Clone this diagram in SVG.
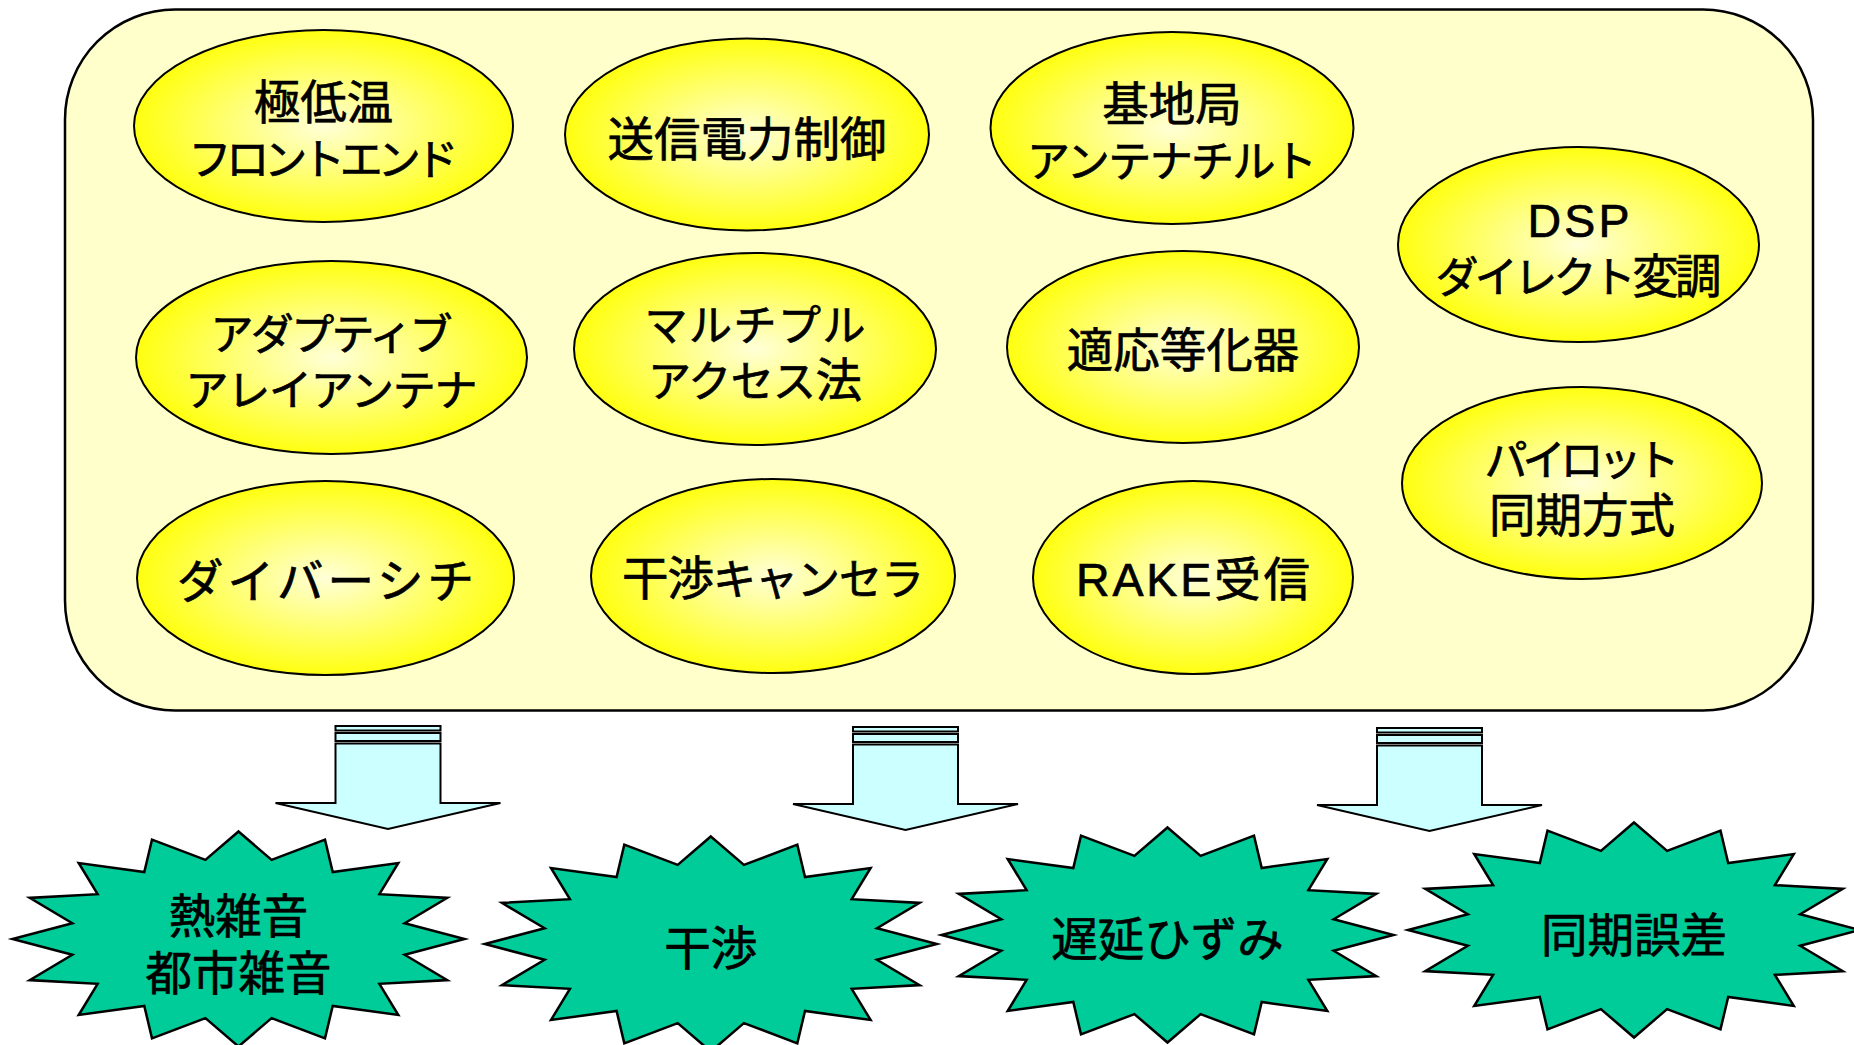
<svg xmlns="http://www.w3.org/2000/svg" width="1854" height="1045" viewBox="0 0 1854 1045">
<style>
.bg{fill:#ffffff}
.panel{fill:#FFFFCC;stroke:#000;stroke-width:2.5}
.node ellipse{fill:url(#yg);stroke:#000;stroke-width:2}
.star{fill:#00CC99;stroke:#000;stroke-width:2.5;stroke-linejoin:miter}
.arr{fill:#CCFFFF;stroke:#000;stroke-width:2;stroke-linejoin:miter}
text{font-family:"Liberation Sans","Noto Sans CJK JP",sans-serif;font-size:46.5px;fill:#000;stroke:#000;stroke-width:0.7;text-anchor:middle}
.k{font-size:43px}
</style>
<defs>
<radialGradient id="yg" cx="50%" cy="50%" r="50%">
<stop offset="0" stop-color="#FFFFD8"/>
<stop offset="1" stop-color="#FFFF10"/>
</radialGradient>
<polygon id="star16" points="0,-107.5 33.1,-79.1 86.5,-99.3 94.2,-67.0 159.8,-76.0 140.9,-44.8 208.8,-41.1 166.2,-15.7 226,0 166.2,15.7 208.8,41.1 140.9,44.8 159.8,76.0 94.2,67.0 86.5,99.3 33.1,79.1 0,107.5 -33.1,79.1 -86.5,99.3 -94.2,67.0 -159.8,76.0 -140.9,44.8 -208.8,41.1 -166.2,15.7 -226,0 -166.2,-15.7 -208.8,-41.1 -140.9,-44.8 -159.8,-76.0 -94.2,-67.0 -86.5,-99.3 -33.1,-79.1"/>
<g id="darrow">
<rect x="-52.5" y="727" width="105" height="4.5"/>
<rect x="-52.5" y="734" width="105" height="8"/>
<path d="M-52.5,744.5 H52.5 V804 H112.5 L0,830 L-112.5,804 H-52.5 Z"/>
</g>
</defs>
<rect class="bg" x="0" y="0" width="1854" height="1045"/>
<g id="panel">
<rect class="panel" x="65" y="9.5" width="1748" height="701" rx="110" ry="110"/>
</g>
<g id="n-gokuteion" class="node">
<ellipse cx="323.5" cy="126" rx="189.5" ry="96"/>
<text x="323.5" y="119">極低温</text>
<text class="k" x="323.5" y="175" textLength="270">フロントエンド</text>
</g>
<g id="n-soushin" class="node">
<ellipse cx="747" cy="134.5" rx="182" ry="96"/>
<text x="747" y="156">送信電力制御</text>
</g>
<g id="n-kichikyoku" class="node">
<ellipse cx="1172" cy="128" rx="181.5" ry="96"/>
<text x="1172" y="121">基地局</text>
<text class="k" x="1172" y="177" textLength="290">アンテナチルト</text>
</g>
<g id="n-dsp" class="node">
<ellipse cx="1578.5" cy="244.5" rx="180.5" ry="97.5"/>
<text x="1578.5" y="237" textLength="102">DSP</text>
<text x="1578.5" y="293" textLength="286"><tspan class="k">ダイレクト</tspan>変調</text>
</g>
<g id="n-adaptive" class="node">
<ellipse cx="331.5" cy="357.5" rx="195.5" ry="96.5"/>
<text class="k" x="331.5" y="350" textLength="242">アダプティブ</text>
<text class="k" x="331.5" y="406" textLength="292">アレイアンテナ</text>
</g>
<g id="n-multiple" class="node">
<ellipse cx="755" cy="349" rx="181" ry="96"/>
<text class="k" x="755" y="341" textLength="221">マルチプル</text>
<text x="755" y="397" textLength="214"><tspan class="k">アクセス</tspan>法</text>
</g>
<g id="n-equalizer" class="node">
<ellipse cx="1183" cy="347" rx="176" ry="96"/>
<text x="1183" y="367">適応等化器</text>
</g>
<g id="n-pilot" class="node">
<ellipse cx="1582" cy="483" rx="180" ry="96"/>
<text class="k" x="1582" y="476" textLength="195">パイロット</text>
<text x="1582" y="532">同期方式</text>
</g>
<g id="n-diversity" class="node">
<ellipse cx="325.5" cy="578" rx="188.5" ry="97"/>
<text x="325.5" y="598" textLength="297">ダイバーシチ</text>
</g>
<g id="n-canceller" class="node">
<ellipse cx="773" cy="576" rx="182" ry="97"/>
<text x="773" y="595" textLength="302">干渉<tspan class="k">キャンセラ</tspan></text>
</g>
<g id="n-rake" class="node">
<ellipse cx="1193" cy="577.5" rx="160" ry="96.5"/>
<text x="1193" y="596" textLength="234">RAKE受信</text>
</g>
<g id="connectors">
<use href="#darrow" class="arr" transform="translate(388,-1)"/>
<use href="#darrow" class="arr" transform="translate(905.5,0)"/>
<use href="#darrow" class="arr" transform="translate(1429.5,1)"/>
</g>
<g id="s-noise">
<use href="#star16" class="star" transform="translate(238.5,939)"/>
<text x="238.5" y="933">熱雑音</text>
<text x="238.5" y="990">都市雑音</text>
</g>
<g id="s-interference">
<use href="#star16" class="star" transform="translate(710.8,944)"/>
<text x="710.8" y="965">干渉</text>
</g>
<g id="s-delay">
<use href="#star16" class="star" transform="translate(1167.5,935)"/>
<text x="1167.5" y="956">遅延ひずみ</text>
</g>
<g id="s-sync">
<use href="#star16" class="star" transform="translate(1634,930)"/>
<text x="1634" y="952">同期誤差</text>
</g>
</svg>
